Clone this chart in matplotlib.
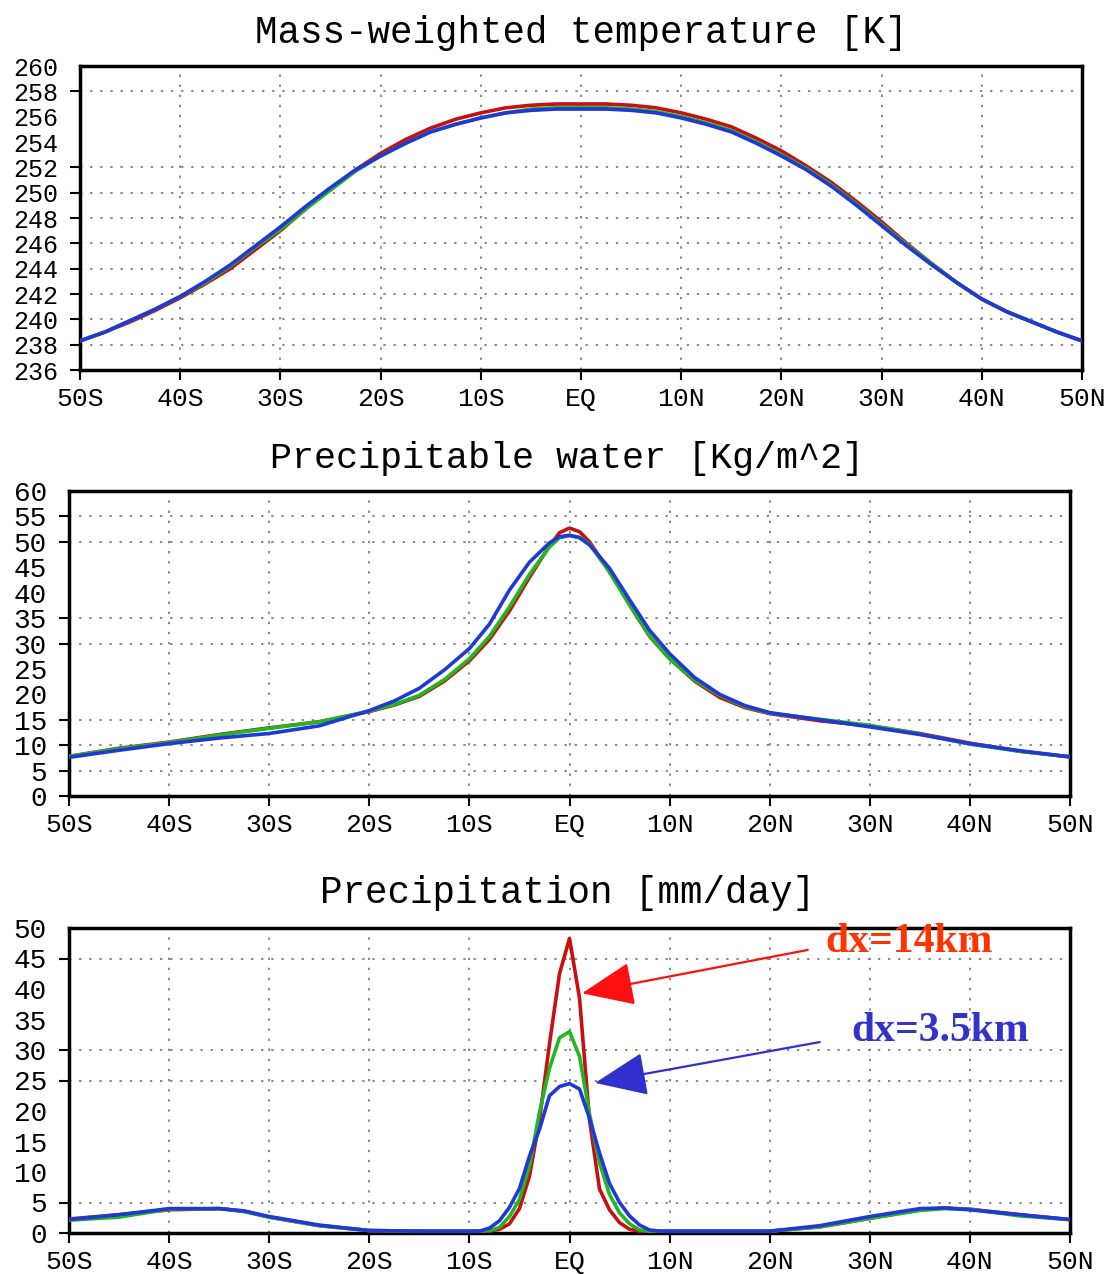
import matplotlib
matplotlib.use("Agg")
import matplotlib.pyplot as plt
from matplotlib.ticker import FixedLocator

# ---------------- data ----------------
lat_labels = ["50S", "40S", "30S", "20S", "10S", "EQ", "10N", "20N", "30N", "40N", "50N"]
lat_ticks = [-50, -40, -30, -20, -10, 0, 10, 20, 30, 40, 50]

# Mass-weighted temperature [K]
t_lat = [-50, -47.5, -45, -42.5, -40, -37.5, -35, -32.5, -30, -27.5, -25, -22.5, -20,
         -17.5, -15, -12.5, -10, -7.5, -5, -2.5, 0, 2.5, 5, 7.5, 10, 12.5, 15, 17.5,
         20, 22.5, 25, 27.5, 30, 32.5, 35, 37.5, 40, 42.5, 45, 47.5, 50]
t_red = [238.3, 239.0, 239.8, 240.7, 241.7, 242.8, 244.0, 245.5, 247.0, 248.7, 250.3,
         251.8, 253.1, 254.2, 255.1, 255.8, 256.3, 256.7, 256.9, 257.0, 257.0, 257.0,
         256.9, 256.7, 256.3, 255.8, 255.2, 254.3, 253.3, 252.1, 250.8, 249.3, 247.7,
         246.0, 244.4, 242.9, 241.6, 240.6, 239.8, 239.0, 238.3]
t_green = [238.3, 239.0, 239.9, 240.8, 241.8, 242.9, 244.2, 245.7, 247.1, 248.7, 250.2,
           251.7, 252.9, 253.9, 254.8, 255.4, 255.9, 256.3, 256.6, 256.7, 256.7, 256.7,
           256.6, 256.4, 256.0, 255.5, 254.9, 254.0, 253.0, 251.9, 250.6, 249.1, 247.5,
           245.9, 244.4, 242.9, 241.6, 240.6, 239.8, 239.0, 238.3]
t_blue = [238.3, 239.0, 239.9, 240.8, 241.8, 243.0, 244.3, 245.8, 247.3, 248.9, 250.4,
          251.8, 252.9, 253.9, 254.8, 255.4, 255.9, 256.3, 256.5, 256.6, 256.6, 256.6,
          256.5, 256.3, 255.9, 255.4, 254.8, 253.9, 252.9, 251.8, 250.5, 249.0, 247.4,
          245.8, 244.3, 242.9, 241.6, 240.6, 239.8, 239.0, 238.3]

# Precipitable water [Kg/m^2]
pw_lat = [-50, -45, -40, -35, -30, -25, -20, -17.5, -15, -12.5, -10, -8, -6, -4, -2, -1,
          0, 1, 2, 4, 6, 8, 10, 12.5, 15, 17.5, 20, 25, 30, 35, 40, 45, 50]
pw_red = [7.8, 9.4, 10.6, 12.1, 13.4, 14.6, 16.6, 17.9, 19.6, 22.6, 26.6, 30.8, 36.4,
          43.0, 49.2, 51.8, 52.7, 52.0, 50.0, 44.2, 37.6, 31.4, 27.0, 22.6, 19.4, 17.4,
          16.2, 14.8, 13.8, 12.3, 10.4, 8.8, 7.7]
pw_green = [7.8, 9.3, 10.5, 12.0, 13.3, 14.6, 16.7, 18.0, 19.8, 22.9, 27.0, 31.4, 37.2,
            43.6, 49.0, 50.8, 51.2, 50.9, 49.6, 44.0, 37.6, 31.5, 27.0, 22.8, 19.8, 17.6,
            16.3, 15.1, 13.9, 12.2, 10.2, 8.8, 7.7]
pw_blue = [7.6, 9.0, 10.3, 11.4, 12.3, 13.8, 16.8, 18.7, 21.2, 24.8, 29.0, 33.8, 40.5,
           46.0, 49.8, 51.0, 51.3, 50.8, 49.4, 44.8, 38.6, 32.6, 28.0, 23.3, 20.0, 17.8,
           16.4, 15.0, 13.6, 12.1, 10.3, 8.9, 7.7]

# Precipitation [mm/day]
pr_lat = [-50, -45, -40, -35, -32.5, -30, -25, -20, -15, -10, -9, -8, -7, -6, -5, -4, -3,
          -2, -1, 0, 1, 2, 3, 4, 5, 6, 7, 8, 9, 10, 15, 20, 25, 30, 35, 37.5, 40, 45, 50]
pr_red = [2.3, 3.0, 3.8, 4.0, 3.6, 2.6, 1.2, 0.4, 0.3, 0.3, 0.3, 0.3, 0.6, 1.5, 4.0, 9.3,
          18.5, 31.0, 42.5, 48.3, 38.5, 18.5, 7.2, 3.8, 1.7, 0.6, 0.3, 0.3, 0.3, 0.3, 0.3,
          0.3, 1.0, 2.4, 3.8, 4.1, 3.9, 3.0, 2.2]
pr_green = [2.1, 2.6, 3.9, 4.0, 3.5, 2.6, 1.2, 0.4, 0.3, 0.3, 0.3, 0.4, 0.9, 2.7, 5.5,
            11.0, 19.8, 27.0, 32.0, 33.0, 29.0, 19.5, 11.5, 6.3, 3.3, 1.5, 0.5, 0.3, 0.3,
            0.3, 0.3, 0.3, 1.0, 2.4, 3.7, 4.0, 3.9, 2.8, 2.2]
pr_blue = [2.2, 3.0, 4.0, 4.0, 3.6, 2.7, 1.3, 0.4, 0.3, 0.3, 0.3, 0.8, 2.0, 4.2, 7.3,
           12.6, 17.0, 22.5, 24.0, 24.5, 23.6, 18.8, 13.1, 8.1, 5.0, 2.8, 1.3, 0.5, 0.3,
           0.3, 0.3, 0.3, 1.2, 2.7, 4.0, 4.1, 3.8, 3.0, 2.2]

titles = ["Mass-weighted temperature [K]", "Precipitable water [Kg/m^2]",
          "Precipitation [mm/day]"]

t_yticks = [236, 238, 240, 242, 244, 246, 248, 250, 252, 254, 256, 258, 260]
t_grid = [236, 238, 240, 242, 244, 246, 248, 250, 252, 258]
pw_yticks = [0, 5, 10, 15, 20, 25, 30, 35, 40, 45, 50, 55, 60]
pw_grid = [0, 5, 10, 15, 30, 35, 50, 55]
pr_yticks = [0, 5, 10, 15, 20, 25, 30, 35, 40, 45, 50]
pr_grid = [0, 5, 25, 30, 45]

# ---------------- style ----------------
W, H = 1112, 1274
fig = plt.figure(figsize=(W / 100, H / 100), dpi=100)
FONT = "Liberation Mono"
RED, GREEN, BLUE = "#C81010", "#20B820", "#2038D8"


def px_axes(left, top, right, bottom):
    return fig.add_axes([left / W, 1 - bottom / H, (right - left) / W, (bottom - top) / H])


def style(ax, yticks, grid, ylim, ysize):
    ax.set_xlim(-50, 50)
    ax.set_ylim(*ylim)
    ax.set_xticks(lat_ticks)
    ax.set_xticklabels(lat_labels, fontfamily=FONT, fontsize=19)
    ax.yaxis.remove_overlapping_locs = False
    ax.yaxis.set_major_locator(FixedLocator(yticks))
    ax.set_yticklabels([str(v) for v in yticks], fontfamily=FONT, fontsize=ysize)
    ax.yaxis.set_minor_locator(FixedLocator(grid))
    ax.tick_params(axis="y", which="major", length=0, pad=16)
    ax.tick_params(axis="y", which="minor", direction="out", length=7, width=1.5)
    ax.tick_params(axis="x", which="major", direction="out", length=7, width=1.5, pad=5)
    ax.grid(axis="y", which="minor", color="#888888", linestyle=(0, (1.2, 4)), lw=1.4)
    ax.grid(axis="x", which="major", color="#888888", linestyle=(0, (1.2, 4)), lw=1.4)
    for s in ax.spines.values():
        s.set_linewidth(2.5)
        s.set_color("black")
    ax.set_axisbelow(True)


ax1 = px_axes(80, 66, 1082, 370)
style(ax1, t_yticks, t_grid, (236, 260), 18)
ax2 = px_axes(69, 491, 1070, 796)
style(ax2, pw_yticks, pw_grid, (0, 60), 20)
ax3 = px_axes(69, 928, 1070, 1233)
style(ax3, pr_yticks, pr_grid, (0, 50), 20)

for ax, lat, r, g, b in [(ax1, t_lat, t_red, t_green, t_blue),
                         (ax2, pw_lat, pw_red, pw_green, pw_blue),
                         (ax3, pr_lat, pr_red, pr_green, pr_blue)]:
    ax.plot(lat, r, color=RED, lw=2.6, solid_joinstyle="round", zorder=3)
    ax.plot(lat, g, color=GREEN, lw=2.6, solid_joinstyle="round", zorder=3)
    ax.plot(lat, b, color=BLUE, lw=2.6, solid_joinstyle="round", zorder=3)

fig.text(581 / W, 1 - 33 / H, titles[0], fontfamily=FONT, fontsize=27, ha="center", va="center")
fig.text(567 / W, 1 - 458 / H, titles[1], fontfamily=FONT, fontsize=26.5, ha="center", va="center")
fig.text(567 / W, 1 - 893 / H, titles[2], fontfamily=FONT, fontsize=27, ha="center", va="center")

# annotations
ax3.annotate("", xy=(1.25, 39.3), xytext=(23.8, 46.4),
             arrowprops=dict(arrowstyle="-|>,head_length=0.6,head_width=0.25",
                             mutation_scale=55, color="#FF1010", lw=1.6,
                             shrinkA=0, shrinkB=0), annotation_clip=False)
ax3.annotate("", xy=(2.55, 24.6), xytext=(25.0, 31.3),
             arrowprops=dict(arrowstyle="-|>,head_length=0.6,head_width=0.25",
                             mutation_scale=55, color="#3030CC", lw=1.6,
                             shrinkA=0, shrinkB=0), annotation_clip=False)
ax3.text(25.6, 47.7, "dx=14km", color="#FF3300", fontfamily="Liberation Serif",
         fontweight="bold", fontsize=30, ha="left", va="center", clip_on=False)
ax3.text(28.2, 33.1, "dx=3.5km", color="#3333CC", fontfamily="Liberation Serif",
         fontweight="bold", fontsize=30, ha="left", va="center", clip_on=False)

fig.savefig("out.png", dpi=100, facecolor="white")
